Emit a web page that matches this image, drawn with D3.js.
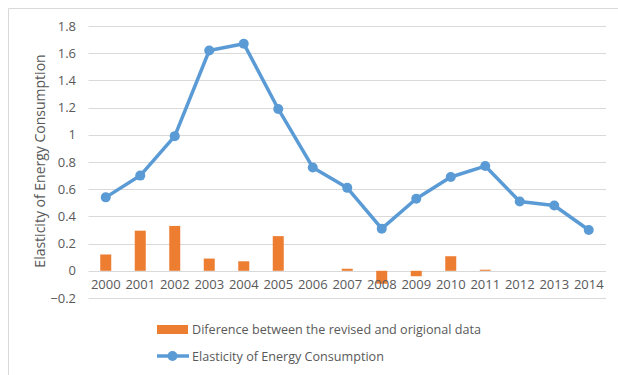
<!DOCTYPE html>
<html><head><meta charset="utf-8">
<script src="https://cdn.jsdelivr.net/npm/d3@7"></script>
<style>body{margin:0;background:#fff}svg{display:block}text{font-family:"Open Sans",Lato,sans-serif;fill:#595959}</style>
</head><body><svg id="c" width="618" height="375"></svg>
<script>
const years = ["2000","2001","2002","2003","2004","2005","2006","2007","2008","2009","2010","2011","2012","2013","2014"];
const diffValues = [0.12,0.295,0.33,0.09,0.07,0.255,0,0.015,-0.095,-0.04,0.107,0.008,0,0,0];
const elasticity = [0.54,0.70,0.99,1.62,1.67,1.19,0.76,0.61,0.31,0.53,0.69,0.77,0.51,0.48,0.30];
const yTicks = [-0.2,0,0.2,0.4,0.6,0.8,1,1.2,1.4,1.6,1.8];
const legendLabels = ["Diference between the revised and origional data","Elasticity of Energy Consumption"];
const axisTitle = "Elasticity of Energy Consumption";

const svg = d3.select("#c");
const blue = "#5b9bd5", orange = "#ed7d31";
// frame
svg.append("path").attr("d","M8.5,380V8.5H630").attr("fill","none").attr("stroke","#d9d9d9");

const x = d3.scaleBand().domain(years).range([88.5,606]);
const y = d3.scaleLinear().domain([-0.2,1.8]).range([298,26]);

// gridlines
svg.append("g").selectAll("line").data(yTicks).join("line")
  .attr("x1",88.5).attr("x2",606).attr("y1",d=>Math.round(y(d))+0.5).attr("y2",d=>Math.round(y(d))+0.5)
  .attr("stroke","#d9d9d9").attr("stroke-width",1);

// y labels
const yAxis = d3.axisLeft(y).tickValues(yTicks).tickSize(0).tickPadding(0).tickFormat(d=>d3.format("")(+d.toFixed(1)));
const ga = svg.append("g").attr("transform","translate(76,0)").call(yAxis);
ga.select(".domain").remove();
ga.selectAll("text").attr("font-size",13).attr("fill","#595959").attr("font-family","\"Open Sans\",Lato,sans-serif");

// bars
const bw = 11;
svg.append("g").selectAll("rect").data(years.map((yr,i)=>({yr,v:diffValues[i]}))).join("rect")
  .attr("x",d=>x(d.yr)+x.bandwidth()/2-bw/2).attr("width",bw)
  .attr("y",d=>y(Math.max(0,d.v))).attr("height",d=>Math.abs(y(d.v)-y(0)))
  .attr("fill",orange);

// x labels
const xAxis = d3.axisBottom(x).tickSize(0).tickPadding(0);
const gx = svg.append("g").attr("transform","translate(0,280)").call(xAxis);
gx.select(".domain").remove();
gx.selectAll("text").attr("font-size",13).attr("fill","#595959").attr("font-family","\"Open Sans\",Lato,sans-serif");

// line
const cx = d=>x(d)+x.bandwidth()/2;
const line = d3.line().x((d,i)=>cx(years[i])).y(d=>y(d));
svg.append("path").datum(elasticity).attr("d",line).attr("fill","none").attr("stroke",blue).attr("stroke-width",3.5).attr("stroke-linejoin","round");
svg.append("g").selectAll("circle").data(elasticity).join("circle")
  .attr("cx",(d,i)=>cx(years[i])).attr("cy",d=>y(d)).attr("r",5).attr("fill",blue);

// axis title
svg.append("text").attr("transform","translate(45,161) rotate(-90)").attr("text-anchor","middle")
  .attr("font-size",14).text(axisTitle);

// legend
svg.append("rect").attr("x",157).attr("y",325).attr("width",31).attr("height",9).attr("fill",orange);
svg.append("text").attr("x",192).attr("y",334).attr("font-size",12.6).text(legendLabels[0]);
svg.append("line").attr("x1",157).attr("x2",189).attr("y1",356).attr("y2",356).attr("stroke",blue).attr("stroke-width",3.5);
svg.append("circle").attr("cx",172.5).attr("cy",356).attr("r",5).attr("fill",blue);
svg.append("text").attr("x",192).attr("y",361).attr("font-size",12.6).text(legendLabels[1]);
</script></body></html>
